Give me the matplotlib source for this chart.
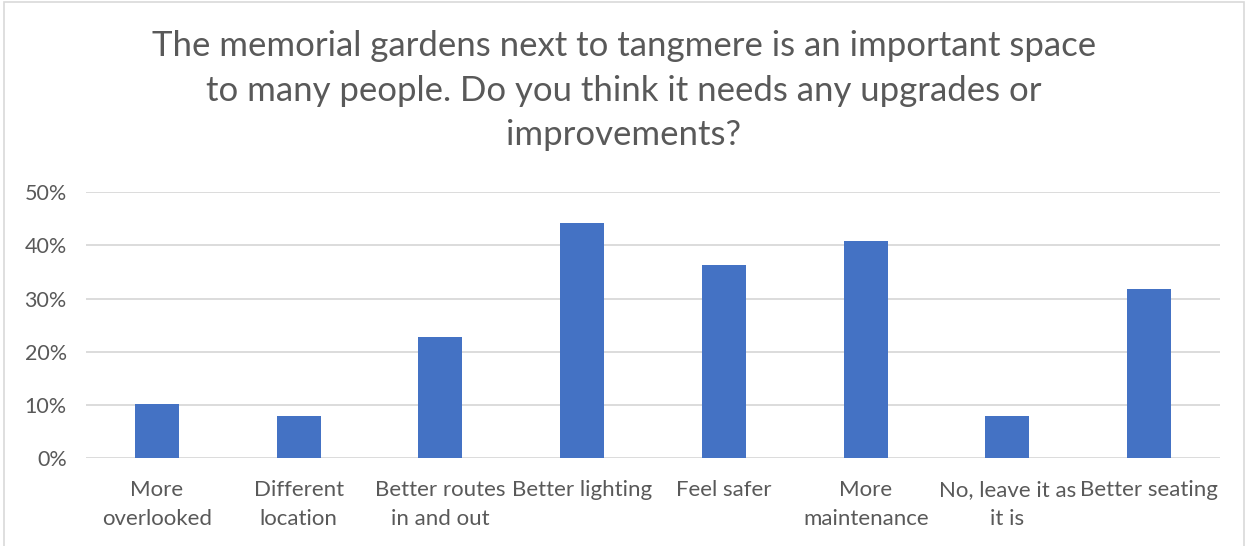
import matplotlib.pyplot as plt
from matplotlib.patches import Rectangle
from matplotlib.ticker import PercentFormatter

categories = ["More\noverlooked", "Different\nlocation", "Better routes\nin and out",
              "Better lighting", "Feel safer", "More\nmaintenance",
              "No, leave it as\nit is", "Better seating"]
values = [10.2, 7.95, 22.7, 44.3, 36.4, 40.9, 7.95, 31.8]
y_ticks = [0, 10, 20, 30, 40, 50]
title = ("The memorial gardens next to tangmere is an important space\n"
         "to many people. Do you think it needs any upgrades or\nimprovements?")

plt.rcParams['font.family'] = ['Lato', 'DejaVu Sans']
text_col = "#595959"

fig = plt.figure(figsize=(12.48, 5.46), dpi=100)
ax = fig.add_axes([0.069, 0.161, 0.9086, 0.487])

x = range(len(categories))
ax.bar(x, values, width=0.31, color="#4472c4", zorder=3)
ax.set_xlim(-0.5, len(categories) - 0.5)
ax.set_ylim(0, 50)
ax.set_yticks(y_ticks)
ax.yaxis.set_major_formatter(PercentFormatter(decimals=0))
ax.set_xticks(list(x))
ax.set_xticklabels(categories, fontsize=16, color=text_col, linespacing=1.55)
ax.tick_params(axis='y', labelsize=15.5, labelcolor=text_col, length=0, pad=14)
ax.tick_params(axis='x', length=0, pad=16)
ax.grid(axis='y', color="#d9d9d9", linewidth=1.3, zorder=0)
for s in ax.spines.values():
    s.set_visible(False)

fig.text(0.5, 0.945, title, ha='center', va='top', fontsize=25,
         color=text_col, linespacing=1.48)

# chart border
fig.patches.append(Rectangle((0.0035, -0.05), 0.993, 1.046, transform=fig.transFigure,
                             fill=False, edgecolor="#d9d9d9", linewidth=1.2))

fig.savefig("out.png", dpi=100)
